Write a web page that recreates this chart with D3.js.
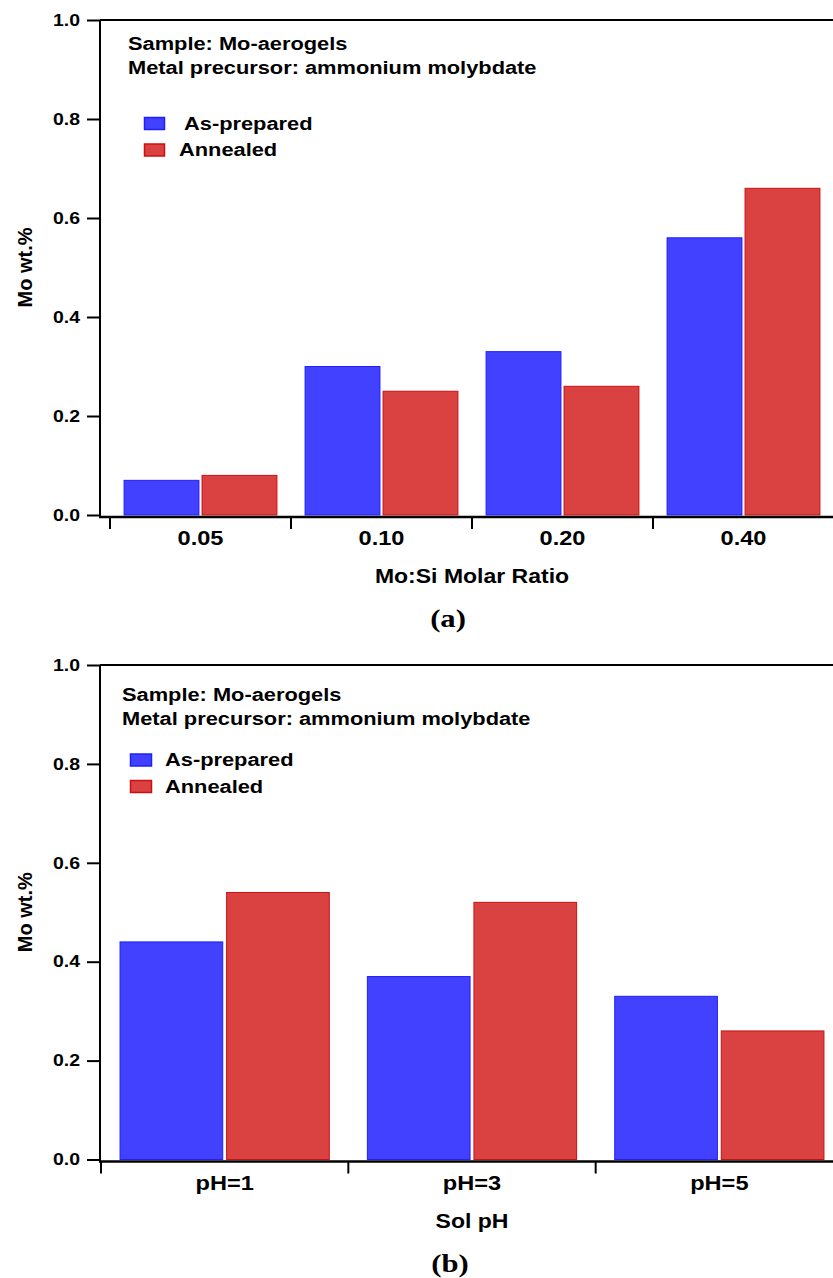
<!DOCTYPE html>
<meta charset="utf-8">
<style>
  body { margin: 0; background: #fff; }
  text { font-family: "Liberation Sans", Arial, sans-serif; font-weight: bold; fill: #000; }
  text.caption { font-family: "Liberation Serif", "Times New Roman", serif; }
  .axis line, .axis path { stroke: #000; stroke-width: 2; }
</style>

<svg width="833" height="1278"></svg>

<script src="https://d3js.org/d3.v7.min.js"></script>

<script>

// data
var seriesNames = ["As-prepared", "Annealed"];
var yTicks = [0, 0.2, 0.4, 0.6, 0.8, 1.0];

var ratioLabels = ["0.05", "0.10", "0.20", "0.40"];
var ratioAsPrepared = [0.07, 0.30, 0.33, 0.56];
var ratioAnnealed = [0.08, 0.25, 0.26, 0.66];

var phLabels = ["pH=1", "pH=3", "pH=5"];
var phAsPrepared = [0.44, 0.37, 0.33];
var phAnnealed = [0.54, 0.52, 0.26];

var fills = ["#4141ff", "#da4141"],
    strokes = ["#1f1fff", "#cc1010"];

var stretch = 1.18;   // the original type is a little wide

var svg = d3.select("svg");

// text helper, widened horizontally
function label(g, x, y, txt, size, anchor) {
  return g.append("text")
      .attr("transform", "translate(" + x + "," + y + ") scale(" + stretch + ",1)")
      .attr("font-size", size)
      .attr("text-anchor", anchor || "start")
      .text(txt);
}

function panel(p) {
  var g = svg.append("g");

  var y = d3.scaleLinear()
      .domain([0, 1])
      .range([p.y0, p.top]);

  var x0 = d3.scaleBand()
      .domain(p.labels)
      .range([p.left, p.right]);

  var bw = x0.bandwidth();
  var x1 = d3.scaleBand()
      .domain(seriesNames)
      .range([bw * 0.075, bw * 0.925])
      .paddingInner(0.027);

  var rows = p.labels.map(function(c, i) {
    return { cat: c, vals: [p.a[i], p.b[i]] };
  });

  // bars
  g.selectAll("g.grp")
    .data(rows)
    .enter().append("g")
      .attr("class", "grp")
      .attr("transform", function(d) { return "translate(" + x0(d.cat) + ",0)"; })
    .selectAll("rect")
    .data(function(d) { return d.vals.map(function(v, j) { return { s: seriesNames[j], v: v, j: j }; }); })
    .enter().append("rect")
      .attr("x", function(d) { return x1(d.s) + 0.5; })
      .attr("width", x1.bandwidth() - 1)
      .attr("y", function(d) { return y(d.v); })
      .attr("height", function(d) { return p.y0 - y(d.v); })
      .attr("fill", function(d) { return fills[d.j]; })
      .attr("stroke", function(d) { return strokes[d.j]; })
      .attr("stroke-width", 1);

  // y axis
  var ya = g.append("g")
      .attr("class", "axis")
      .attr("transform", "translate(" + p.left0 + ",0)")
      .call(d3.axisLeft(y)
        .tickValues(yTicks)
        .tickFormat(d3.format(".1f"))
        .tickSize(13)
        .tickPadding(7)
        .tickSizeOuter(0));
  ya.select(".domain").remove();
  ya.selectAll("text")
      .attr("font-size", 16.5)
      .attr("x", -20 / stretch)
      .attr("transform", "scale(" + stretch + ",1)");

  // frame: left, top, bottom
  g.append("line")
      .attr("x1", p.left0).attr("x2", p.left0)
      .attr("y1", p.top).attr("y2", p.y0 + 3)
      .attr("stroke", "#000").attr("stroke-width", 2);
  g.append("line")
      .attr("x1", p.left0).attr("x2", 833)
      .attr("y1", p.top).attr("y2", p.top)
      .attr("stroke", "#000").attr("stroke-width", 2);
  g.append("line")
      .attr("x1", p.left0 - 1).attr("x2", 833)
      .attr("y1", p.y0 + 2).attr("y2", p.y0 + 2)
      .attr("stroke", "#000").attr("stroke-width", 2.5);

  // x ticks at the category boundaries
  g.selectAll("line.xt")
    .data(p.labels)
    .enter().append("line")
      .attr("class", "xt")
      .attr("x1", function(d) { return x0(d); })
      .attr("x2", function(d) { return x0(d); })
      .attr("y1", p.y0 + 2)
      .attr("y2", p.y0 + 14)
      .attr("stroke", "#000").attr("stroke-width", 2);

  p.labels.forEach(function(c) {
    label(g, x0(c) + bw / 2, p.y0 + 30, c, 20, "middle");
  });

  label(g, p.titleX, p.y0 + 68, p.xTitle, 19.5, "middle");

  label(g, p.capX, p.y0 + 112, p.caption, 26, "middle")
      .attr("class", "caption");

  g.append("text")
      .attr("transform", "translate(" + 32 + "," + (p.top + p.y0) / 2 + ") rotate(-90)")
      .attr("font-size", 20)
      .attr("text-anchor", "middle")
      .text("Mo wt.%");

  // notes and legend
  label(g, p.noteX, p.noteY, "Sample: Mo-aerogels", 18.5);
  label(g, p.noteX, p.noteY + 24, "Metal precursor: ammonium molybdate", 18.5);

  seriesNames.forEach(function(s, j) {
    var ly = p.legY + j * 26.5;
    g.append("rect")
        .attr("x", p.legX)
        .attr("y", ly - 12)
        .attr("width", p.swW)
        .attr("height", 12)
        .attr("fill", fills[j])
        .attr("stroke", strokes[j])
        .attr("stroke-width", 1.5);
    label(g, p.legTextX[j], ly, s, 18.5);
  });
}

panel({
  labels: ratioLabels, a: ratioAsPrepared, b: ratioAnnealed,
  left0: 100, left: 110, right: 834, top: 20, y0: 515,
  xTitle: "Mo:Si Molar Ratio", titleX: 472, caption: "(a)", capX: 448,
  noteX: 128, noteY: 50,
  legX: 144.5, swW: 20, legY: 129.5, legTextX: [184, 179]
});

panel({
  labels: phLabels, a: phAsPrepared, b: phAnnealed,
  left0: 100, left: 101, right: 843, top: 665, y0: 1159.5,
  xTitle: "Sol pH", titleX: 472, caption: "(b)", capX: 450,
  noteX: 122, noteY: 701,
  legX: 130.5, swW: 21, legY: 766, legTextX: [165, 165]
});

</script>
